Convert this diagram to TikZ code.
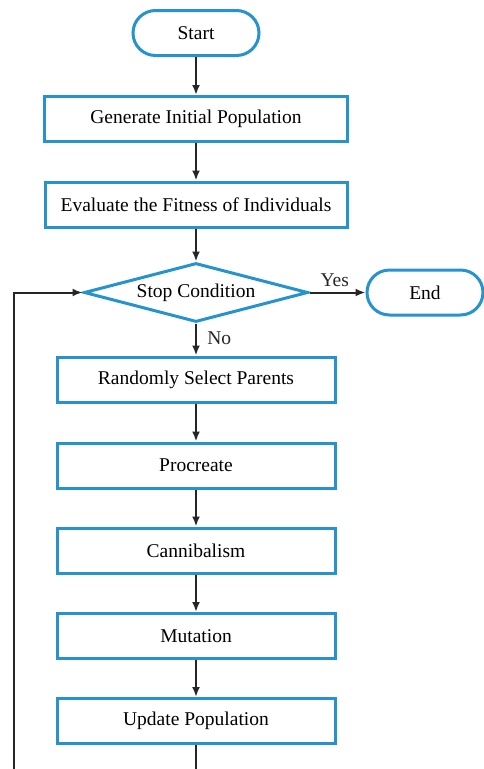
\documentclass[tikz,border=0pt]{standalone}
\usepackage{fontspec}
\setmainfont{Liberation Serif}
\usepackage{xcolor}
\usetikzlibrary{shapes.geometric,arrows.meta}
\definecolor{flowblue}{RGB}{38,146,206}

\begin{document}
\begin{tikzpicture}[x=1pt,y=-1pt,>={Latex[length=10pt,width=8pt]},
  every node/.style={font=\fontsize{19.5}{23}\selectfont},
  procbox/.style={draw=flowblue,line width=3pt,rectangle,inner sep=0pt,minimum height=45pt},
  termbox/.style={draw=flowblue,line width=3pt,rectangle,rounded corners=22.5pt,inner sep=0pt,minimum height=45pt},
  flowarrow/.style={->,line width=2pt,black!85}]
\useasboundingbox (0,0) rectangle (484,769);
% start and the two set-up steps
\node[termbox,minimum width=126pt] (start) at (196,33) {Start};
\node[procbox,minimum width=303pt] (gen) at (196,119) {Generate Initial Population};
\node[procbox,minimum width=302pt] (eval) at (196,204.5) {Evaluate the Fitness of Individuals};
% decision
\node[diamond,aspect=3.8,draw=flowblue,line width=3pt,inner sep=0pt,minimum width=224pt,minimum height=59pt] (stop) at (196,292.5) {Stop Condition};
\node[termbox,minimum width=116pt] (end) at (425,292.5) {End};
% the loop body
\node[procbox,minimum width=278pt] (sel) at (196,379.5) {Randomly Select Parents};
\node[procbox,minimum width=278pt] (proc) at (196,465.5) {Procreate};
\node[procbox,minimum width=278pt] (cann) at (196,550.5) {Cannibalism};
\node[procbox,minimum width=278pt] (mut) at (196,636) {Mutation};
\node[procbox,minimum width=278pt] (upd) at (196,721) {Update Population};
% ends of the picture (the loop goes on below)
\coordinate (downend) at (196,769);
\coordinate (loopend) at (14,769);
\coordinate (loopup) at (14,292.5);

\draw[flowarrow] (start) -- (gen);
\draw[flowarrow] (gen) -- (eval);
\draw[flowarrow] (eval) -- (stop);
\draw[flowarrow] (stop) -- node[above,pos=0.45,yshift=1pt] {Yes} (end);
\draw[flowarrow] (stop) -- node[right,pos=0.45,xshift=7pt] {No} (sel);
\draw[flowarrow] (sel) -- (proc);
\draw[flowarrow] (proc) -- (cann);
\draw[flowarrow] (cann) -- (mut);
\draw[flowarrow] (mut) -- (upd);
\draw[line width=2pt,black!85] (upd) -- (downend);
\draw[flowarrow] (loopend) -- (loopup) -- (stop.west);
\end{tikzpicture}
\end{document}
